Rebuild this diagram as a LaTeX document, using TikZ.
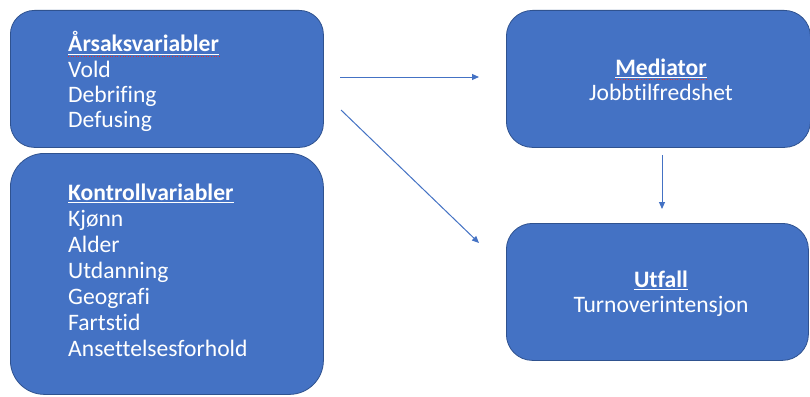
\documentclass[tikz,border=0pt]{standalone}
\usepackage{fontspec}
\setmainfont{Carlito}[Ligatures=CommonOff]
\usetikzlibrary{arrows.meta}
\definecolor{boxfill}{HTML}{4472C4}
\definecolor{boxline}{HTML}{2F528F}
\definecolor{arrowc}{HTML}{4472C4}
\definecolor{spellred}{HTML}{E03030}
\newcommand{\hdr}[1]{\textbf{#1}}
\begin{document}
\begin{tikzpicture}[x=1pt,y=-1pt,
  box/.style={draw=boxline, line width=0.8pt, fill=boxfill, anchor=north west, inner sep=0pt},
  txt/.style={text=white, font=\fontsize{23.6}{26}\selectfont, inner sep=0pt, anchor=base west},
  ctxt/.style={txt, anchor=base},
  uline/.style={draw=white, line width=1.3pt},
  conn/.style={draw=arrowc, line width=1pt, -{Triangle[length=7pt,width=6pt]}},
  squiggle/.style={draw=spellred, line width=0.6pt, dotted}]
\useasboundingbox (0,0) rectangle (810,396);
\fill[white] (0,0) rectangle (810,396);
% boxes
\node[box, rounded corners=24pt, minimum width=313pt, minimum height=137pt] (cause) at (10,10) {};
\node[box, rounded corners=34pt, minimum width=313pt, minimum height=241pt] (ctrl) at (10,153) {};
\node[box, rounded corners=26pt, minimum width=304pt, minimum height=137pt] (med) at (506,10) {};
\node[box, rounded corners=26pt, minimum width=302pt, minimum height=137pt] (out) at (506,223) {};
% texts in cause box
\node[txt] (causeh) at (68,52) {\hdr{Årsaksvariabler}\ };
\node[txt] (c1) at (68,77) {Vold};
\node[txt] (c2) at (68,102) {Debrifing};
\node[txt] (c3) at (68,127) {Defusing};
% control box
\node[txt] (ctrlh) at (68,200) {\hdr{Kontrollvariabler}};
\node[txt] (k1) at (68,226) {Kjønn};
\node[txt] (k2) at (68,252) {Alder};
\node[txt] (k3) at (68,278) {Utdanning};
\node[txt] (k4) at (68,304) {Geografi};
\node[txt] (k5) at (68,330) {Fartstid};
\node[txt] (k6) at (68,356) {Ansettelsesforhold};
% mediator
\node[ctxt] (medh) at (661,75) {\hdr{Mediator}\ };
\node[ctxt] (med1) at (661,100) {Jobbtilfredshet};
% outcome
\node[ctxt] (outh) at (661,287) {\hdr{Utfall}};
\node[ctxt] (out1) at (661,312) {Turnoverintensjon};
% underlines
\draw[uline] ([yshift=-2.6pt]causeh.base west) -- ([yshift=-2.6pt]causeh.base east);
\draw[uline] ([yshift=-2.6pt]ctrlh.base west) -- ([yshift=-2.6pt]ctrlh.base east);
\draw[uline] ([yshift=-2.6pt]medh.base west) -- ([yshift=-2.6pt]medh.base east);
\draw[uline] ([yshift=-2.6pt]outh.base west) -- ([yshift=-2.6pt]outh.base east);
% spell-check marks
\draw[squiggle] ([yshift=-4pt]causeh.base west) -- ([yshift=-4pt]causeh.base east);
\draw[squiggle] ([yshift=-4pt]medh.base west) -- ([yshift=-4pt]medh.base east);
% connectors
\coordinate (a1s) at (340,77);
\coordinate (a1e) at (479,77);
\coordinate (a2s) at (341,110);
\coordinate (a2e) at (479,243);
\coordinate (a3s) at (662,155);
\coordinate (a3e) at (662,209);
\draw[conn] (a1s) -- (a1e);
\draw[conn] (a2s) -- (a2e);
\draw[conn] (a3s) -- (a3e);
\end{tikzpicture}
\end{document}
